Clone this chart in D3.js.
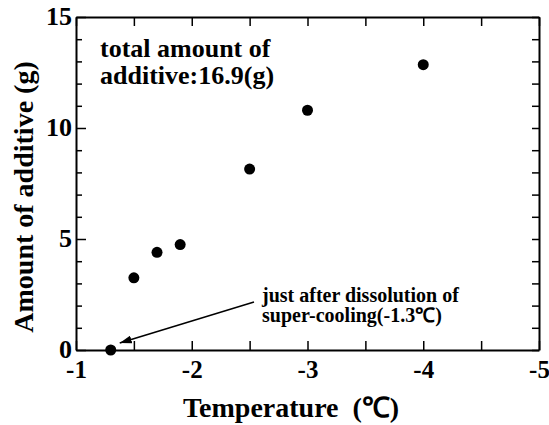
<!DOCTYPE html>
<html>
<head>
<meta charset="utf-8">
<script src="https://cdn.jsdelivr.net/npm/d3@7"></script>
<style>
  body { margin: 0; background: #fff; }
  text { font-family: "Liberation Serif", "Times New Roman", serif; font-weight: bold; fill: #000; }
</style>
</head>
<body>
<div id="chart"></div>
<script>
// temperature (deg C) vs amount of additive (g)
var temps = [-1.3, -1.5, -1.7, -1.9, -2.5, -3.0, -4.0]
var amounts = [0, 3.25, 4.4, 4.75, 8.15, 10.8, 12.85]

var xTicks = d3.range(-1, -5.01, -0.5)
var yTicks = d3.range(0, 15.01, 1)

var width = 549
var height = 425
var pLeft = 76, pRight = 539, pTop = 17, pBottom = 350

var svg = d3.select("#chart").append("svg")
    .attr("width", width)
    .attr("height", height)

var x = d3.scaleLinear().domain([-1, -5]).range([pLeft, pRight])
var y = d3.scaleLinear().domain([0, 15]).range([pBottom, pTop])

function intLabel(d) {
    return Number.isInteger(d) ? String(d) : ""
}

// bottom axis with labels
var gx = svg.append("g")
    .attr("transform", `translate(0,${pBottom})`)
    .call(d3.axisBottom(x).tickValues(xTicks).tickSizeInner(-9).tickSizeOuter(0)
        .tickPadding(10).tickFormat(intLabel))
gx.selectAll("text").style("font-size", "25px")

// top axis, ticks only
svg.append("g")
    .attr("transform", `translate(0,${pTop})`)
    .call(d3.axisTop(x).tickValues(xTicks).tickSizeInner(-9).tickSizeOuter(0).tickFormat(""))

// left axis
var gy = svg.append("g")
    .attr("transform", `translate(${pLeft},0)`)
    .call(d3.axisLeft(y).tickValues(yTicks).tickSizeInner(-6).tickSizeOuter(0)
        .tickPadding(4).tickFormat(function (d) { return d % 5 === 0 ? String(d) : "" }))
gy.selectAll("text").style("font-size", "26px").attr("dy", "0.3em")
gy.selectAll(".tick line").attr("x2", function (d) { return d % 5 === 0 ? 10 : 6 })

// right axis, ticks only
svg.append("g")
    .attr("transform", `translate(${pRight},0)`)
    .call(d3.axisRight(y).tickValues(yTicks).tickSizeInner(-7).tickSizeOuter(0).tickFormat(""))

svg.selectAll(".domain").attr("stroke", "#000").attr("stroke-width", 2)
svg.selectAll(".tick line").attr("stroke", "#000").attr("stroke-width", 1.5)

// axis titles
svg.append("text")
    .attr("transform", "translate(33,197) rotate(-90)")
    .attr("text-anchor", "middle")
    .style("font-size", "28px")
    .text("Amount of additive (g)")

svg.append("text")
    .attr("x", 183)
    .attr("y", 417)
    .style("font-size", "28px")
    .text("Temperature\u2002(℃)")

// points
svg.selectAll("circle.pt")
    .data(temps)
    .enter().append("circle")
    .attr("class", "pt")
    .attr("cx", function (d) { return x(d) })
    .attr("cy", function (d, i) { return y(amounts[i]) })
    .attr("r", 5.5)
    .attr("fill", "#000")

// note top left
var note = svg.append("text").style("font-size", "26px")
note.append("tspan").attr("x", 100).attr("y", 57).text("total amount of")
note.append("tspan").attr("x", 100).attr("y", 84).text("additive:16.9(g)")

// arrow annotation
svg.append("defs").append("marker")
    .attr("id", "arrow")
    .attr("viewBox", "0 0 12 8")
    .attr("refX", 12).attr("refY", 4)
    .attr("markerWidth", 12).attr("markerHeight", 8)
    .attr("markerUnits", "userSpaceOnUse")
    .attr("orient", "auto")
    .append("path").attr("d", "M0,0L12,4L0,8Z").attr("fill", "#000")

svg.append("line")
    .attr("x1", 254).attr("y1", 302)
    .attr("x2", x(-1.3) + 9).attr("y2", y(0) - 7)
    .attr("stroke", "#000").attr("stroke-width", 1.5)
    .attr("marker-end", "url(#arrow)")

var ann = svg.append("text").style("font-size", "20px")
ann.append("tspan").attr("x", 262).attr("y", 302).text("just after dissolution of")
ann.append("tspan").attr("x", 262).attr("y", 322).text("super-cooling(-1.3℃)")
</script>
</body>
</html>
